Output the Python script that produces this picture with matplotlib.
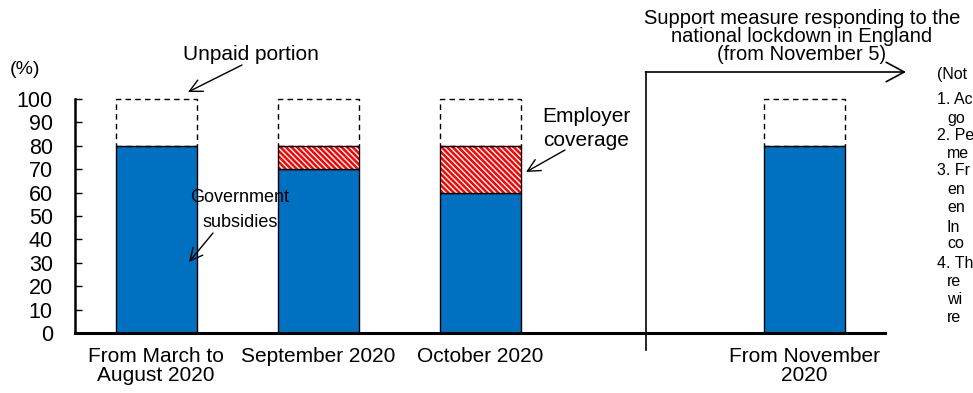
import matplotlib
matplotlib.use("Agg")
import matplotlib.pyplot as plt

# ===================
# DATA
# ===================
categories = ["From March to\nAugust 2020", "September 2020", "October 2020", "From November\n2020"]
government = [80, 70, 60, 80]
employer = [0, 10, 20, 0]
unpaid = [20, 20, 20, 20]
y_ticks = [0, 10, 20, 30, 40, 50, 60, 70, 80, 90, 100]

notes = [
    ("(Not", 937, 75),
    ("1. Ac", 937, 100), ("go", 947, 118),
    ("2. Pe", 937, 135), ("me", 947, 153),
    ("3. Fr", 937, 171), ("en", 947, 190), ("en", 947, 208), ("In", 947, 227), ("co", 947, 244),
    ("4. Th", 937, 263), ("re", 947, 282), ("wi", 947, 299), ("re", 947, 318),
]

# ===================
# CONFIGURATION
# ===================
W, H = 973, 393
SLOTS = [0, 1, 2, 4]   # empty slot at 3 before the lockdown measure
BLUE = "#0070C0"
RED = "#FF0000"

plt.rcParams['font.family'] = ['Liberation Sans', 'DejaVu Sans']
plt.rcParams['hatch.linewidth'] = 1.8


def fp(x, y):
    # pixel (top-left origin) -> figure fraction
    return (x / W, 1 - y / H)


fig = plt.figure(figsize=(W / 100, H / 100), dpi=100)
ax = fig.add_axes([75 / W, (H - 333) / H, 810 / W, 234 / H])

for i, s in enumerate(SLOTS):
    ax.bar(s, government[i], width=0.5, color=BLUE, edgecolor='black', linewidth=1, zorder=2)
    if employer[i] > 0:
        ax.bar(s, employer[i], bottom=government[i], width=0.5, color='white',
               edgecolor=RED, linewidth=0, hatch='\\' * 6, zorder=2)
        ax.bar(s, employer[i], bottom=government[i], width=0.5, fill=False,
               edgecolor='black', linewidth=1, zorder=3)
    top = government[i] + employer[i]
    ax.bar(s, unpaid[i], bottom=top, width=0.5, fill=False, edgecolor='black',
           linewidth=1, linestyle=(0, (4, 3)), zorder=3, clip_on=False)

ax.set_xlim(-0.5, 4.5)
ax.set_ylim(0, 100)
ax.set_yticks(y_ticks)
ax.tick_params(axis='y', direction='in', length=5, width=1, labelsize=15.5, pad=16)
ax.set_xticks(SLOTS, categories)
ax.tick_params(axis='x', length=0, labelsize=15, pad=10)
for lab in ax.get_xticklabels():
    lab.set_linespacing(1.0)
for side in ['top', 'right']:
    ax.spines[side].set_visible(False)
ax.spines['left'].set_linewidth(1.8)
ax.spines['bottom'].set_linewidth(2.2)

# unit label
fig.text(*fp(10, 70), "(%)", fontsize=14, ha='left', va='center')

# annotations
arrow_small = dict(arrowstyle='->,head_length=0.6,head_width=0.3', color='black',
                   lw=1, mutation_scale=15, shrinkA=0, shrinkB=0)
fig.text(*fp(251, 55), "Unpaid portion", fontsize=15, ha='center', va='center')
ax.annotate("", xy=fp(188, 92), xytext=fp(242, 65), xycoords='figure fraction',
            textcoords='figure fraction', arrowprops=arrow_small)

fig.text(*fp(240, 197), "Government", fontsize=13, ha='center', va='center')
fig.text(*fp(240, 222), "subsidies", fontsize=13, ha='center', va='center')
ax.annotate("", xy=fp(189, 262), xytext=fp(213, 233), xycoords='figure fraction',
            textcoords='figure fraction', arrowprops=arrow_small)

fig.text(*fp(586, 117), "Employer", fontsize=15, ha='center', va='center')
fig.text(*fp(586, 140), "coverage", fontsize=15, ha='center', va='center')
ax.annotate("", xy=fp(526, 172), xytext=fp(565, 150), xycoords='figure fraction',
            textcoords='figure fraction', arrowprops=arrow_small)

# lockdown measure bracket
fig.add_artist(plt.Line2D([646 / W, 646 / W], [1 - 72 / H, 1 - 350 / H], color='black', lw=1.2))
ax.annotate("", xy=fp(906, 72), xytext=fp(645.5, 72), xycoords='figure fraction',
            textcoords='figure fraction',
            arrowprops=dict(arrowstyle='->,head_length=0.65,head_width=0.35', color='black',
                            lw=1.2, mutation_scale=20, shrinkA=0, shrinkB=0))
for txt, yy in [("Support measure responding to the", 19),
                ("national lockdown in England", 37),
                ("(from November 5)", 55)]:
    fig.text(*fp(802, yy), txt, fontsize=14.5, ha='center', va='center')

# notes, cut off by the right edge in the source
for txt, xx, yy in notes:
    fig.text(*fp(xx, yy), txt, fontsize=11.5, ha='left', va='center')

fig.savefig("out.png", dpi=100)
